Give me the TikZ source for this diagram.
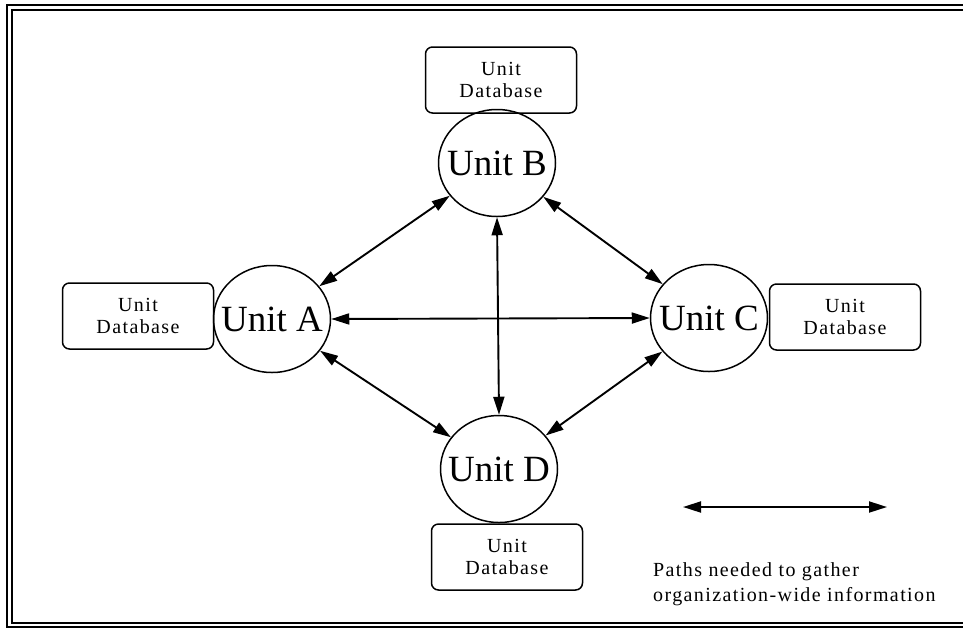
\documentclass[tikz,border=0pt]{standalone}
\usepackage{fontspec}
\setmainfont{Liberation Serif}
\newfontfamily\smallf[LetterSpace=7]{Liberation Serif}
\usetikzlibrary{arrows.meta,shapes.geometric}
\tikzset{
  unit/.style={ellipse,draw,line width=1.5pt,minimum width=117pt,minimum height=107pt,inner sep=0pt,font=\fontsize{37}{40}\selectfont},
  db/.style={draw,line width=1.5pt,rounded corners=7pt,minimum width=151pt,minimum height=66pt,inner sep=0pt,align=center,font=\smallf\fontsize{20}{22}\selectfont},
  link/.style={line width=1.9pt,{Triangle[length=18pt,width=11pt]}-{Triangle[length=18pt,width=11pt]}},
  frameouter/.style={line width=2.5pt},
  frameinner/.style={line width=1.2pt},
}
\begin{document}
\begin{tikzpicture}[x=1pt,y=-1pt]
\useasboundingbox (0,0) rectangle (963,630);
% frame
\draw[frameouter] (963,5) -- (7,5) -- (7,627) -- (963,627);
\draw[frameinner] (963,10) -- (12,10) -- (12,623) -- (963,623);
% units
\node[unit] (B) at (497,163) {\makebox[0pt]{Unit B}};
\node[unit] (A) at (272,319) {\makebox[0pt]{Unit A}};
\node[unit] (C) at (709,318) {\makebox[0pt]{Unit C}};
\node[unit] (D) at (499,469) {\makebox[0pt]{Unit D}};
% databases
\node[db] (dbB) at (501,80) {Unit\\Database};
\node[db] (dbA) at (138,316) {Unit\\Database};
\node[db] (dbC) at (845,317) {Unit\\Database};
\node[db] (dbD) at (507,557) {Unit\\Database};
% links
\draw[link] (A) -- (B);
\draw[link] (B) -- (C);
\draw[link] (A) -- (D);
\draw[link] (D) -- (C);
\draw[link] (A.east) -- (C.west);
\draw[link] (B.south) -- (D.north);
% legend
\coordinate (l1) at (683,507);
\coordinate (l2) at (887,507);
\draw[link] (l1) -- (l2);
\node[anchor=north west,align=left,inner sep=0pt,font=\smallf\fontsize{20}{25}\selectfont] (legend) at (653,562) {Paths needed to gather\\organization-wide information};
\end{tikzpicture}
\end{document}
